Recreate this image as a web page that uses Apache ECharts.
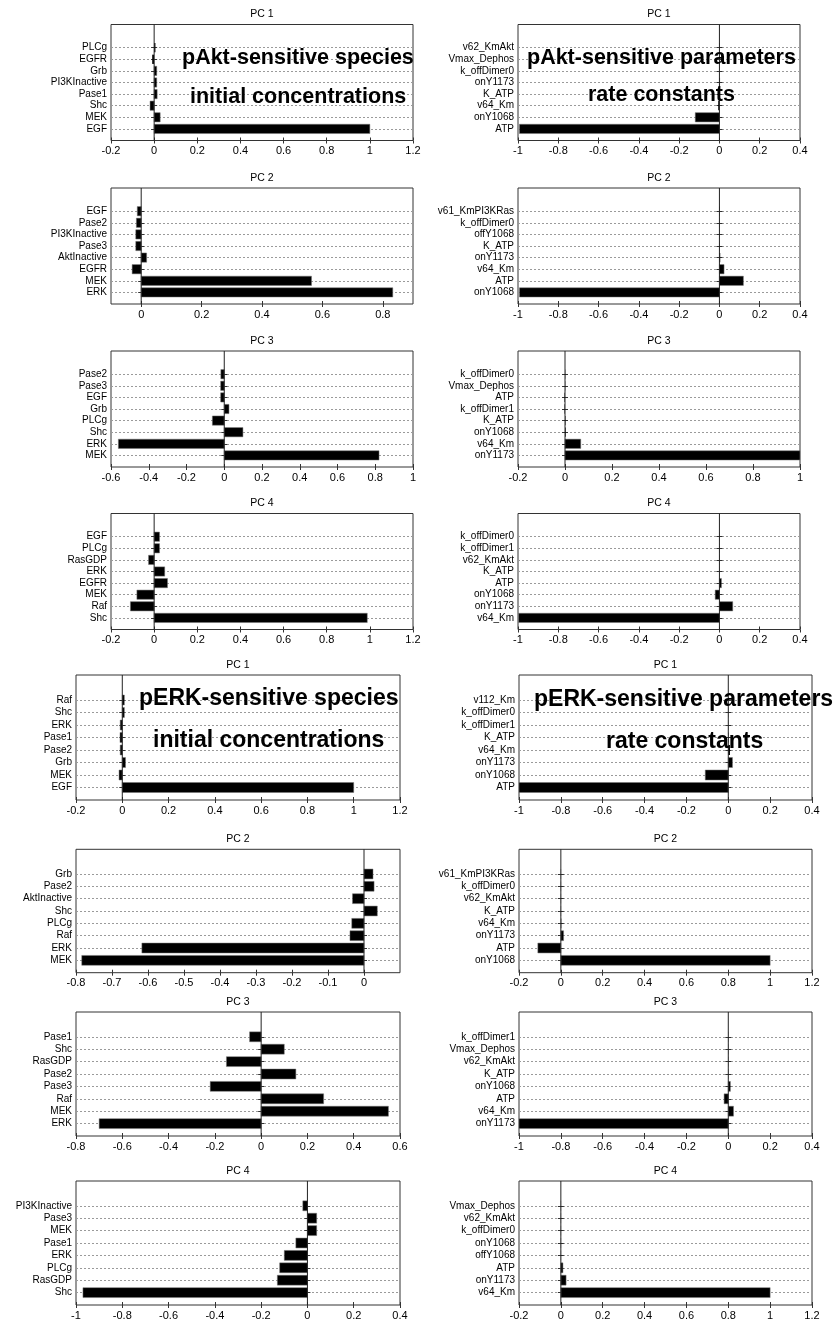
<!DOCTYPE html>
<html><head><meta charset="utf-8">
<script src="https://cdn.jsdelivr.net/npm/echarts@6/dist/echarts.min.js"></script>
<style>html,body{margin:0;padding:0;background:#fff}#c{width:839px;height:1339px}</style>
</head><body><div id="c"></div>
<script>
// ---------- DATA (categories listed top -> bottom) ----------
const aktSpPC1Cats = ['PLCg','EGFR','Grb','PI3KInactive','Pase1','Shc','MEK','EGF'];
const aktSpPC1Vals = [0.006,-0.009,0.012,0.012,0.014,-0.019,0.028,1.0];
const aktSpPC2Cats = ['EGF','Pase2','PI3KInactive','Pase3','AktInactive','EGFR','MEK','ERK'];
const aktSpPC2Vals = [-0.013,-0.016,-0.018,-0.018,0.018,-0.03,0.564,0.833];
const aktSpPC3Cats = ['Pase2','Pase3','EGF','Grb','PLCg','Shc','ERK','MEK'];
const aktSpPC3Vals = [-0.018,-0.019,-0.019,0.025,-0.063,0.099,-0.561,0.82];
const aktSpPC4Cats = ['EGF','PLCg','RasGDP','ERK','EGFR','MEK','Raf','Shc'];
const aktSpPC4Vals = [0.025,0.025,-0.026,0.049,0.062,-0.08,-0.11,0.988];

const aktPaPC1Cats = ['v62_KmAkt','Vmax_Dephos','k_offDimer0','onY1173','K_ATP','v64_Km','onY1068','ATP'];
const aktPaPC1Vals = [0.002,0.001,0.001,0.003,0.002,-0.006,-0.12,-0.993];
const aktPaPC2Cats = ['v61_KmPI3KRas','k_offDimer0','offY1068','K_ATP','onY1173','v64_Km','ATP','onY1068'];
const aktPaPC2Vals = [0.002,0.001,0.001,0.001,0.004,0.023,0.119,-0.993];
const aktPaPC3Cats = ['k_offDimer0','Vmax_Dephos','ATP','k_offDimer1','K_ATP','onY1068','v64_Km','onY1173'];
const aktPaPC3Vals = [0.001,0.001,-0.002,-0.002,0.002,0.003,0.067,1.0];
const aktPaPC4Cats = ['k_offDimer0','k_offDimer1','v62_KmAkt','K_ATP','ATP','onY1068','onY1173','v64_Km'];
const aktPaPC4Vals = [0.001,0.001,0.001,0.001,0.01,-0.021,0.066,-0.997];

const erkSpPC1Cats = ['Raf','Shc','ERK','Pase1','Pase2','Grb','MEK','EGF'];
const erkSpPC1Vals = [0.009,0.009,-0.009,-0.01,-0.009,0.014,-0.014,1.0];
const erkSpPC2Cats = ['Grb','Pase2','AktInactive','Shc','PLCg','Raf','ERK','MEK'];
const erkSpPC2Vals = [0.025,0.028,-0.032,0.037,-0.034,-0.039,-0.617,-0.784];
const erkSpPC3Cats = ['Pase1','Shc','RasGDP','Pase2','Pase3','Raf','MEK','ERK'];
const erkSpPC3Vals = [-0.05,0.1,-0.15,0.15,-0.22,0.27,0.55,-0.7];
const erkSpPC4Cats = ['PI3KInactive','Pase3','MEK','Pase1','ERK','PLCg','RasGDP','Shc'];
const erkSpPC4Vals = [-0.02,0.04,0.04,-0.05,-0.1,-0.12,-0.13,-0.97];

const erkPaPC1Cats = ['v112_Km','k_offDimer0','k_offDimer1','K_ATP','v64_Km','onY1173','onY1068','ATP'];
const erkPaPC1Vals = [0.001,0.001,0.001,0.002,0.008,0.02,-0.11,-1.0];
const erkPaPC2Cats = ['v61_KmPI3KRas','k_offDimer0','v62_KmAkt','K_ATP','v64_Km','onY1173','ATP','onY1068'];
const erkPaPC2Vals = [0.001,0.001,0.001,0.001,0.002,0.013,-0.11,1.0];
const erkPaPC3Cats = ['k_offDimer1','Vmax_Dephos','v62_KmAkt','K_ATP','onY1068','ATP','v64_Km','onY1173'];
const erkPaPC3Vals = [0.001,0.001,0.001,0.001,0.01,-0.02,0.025,-1.0];
const erkPaPC4Cats = ['Vmax_Dephos','v62_KmAkt','k_offDimer0','onY1068','offY1068','ATP','onY1173','v64_Km'];
const erkPaPC4Vals = [0.001,0.001,0.001,0.001,0.001,0.01,0.025,1.0];

// tick label sets
const ticksM02to12 = [-0.2,0,0.2,0.4,0.6,0.8,1,1.2];
const ticksM1to04 = [-1,-0.8,-0.6,-0.4,-0.2,0,0.2,0.4];
const ticks0to08 = [0,0.2,0.4,0.6,0.8];
const ticksM06to1 = [-0.6,-0.4,-0.2,0,0.2,0.4,0.6,0.8,1];
const ticksM02to1 = [-0.2,0,0.2,0.4,0.6,0.8,1];
const ticksM08to0 = [-0.8,-0.7,-0.6,-0.5,-0.4,-0.3,-0.2,-0.1,0];
const ticksM08to06 = [-0.8,-0.6,-0.4,-0.2,0,0.2,0.4,0.6];

const titles = ['PC 1','PC 2','PC 3','PC 4'];
const overlayTexts = ['pAkt-sensitive species','initial concentrations','pAkt-sensitive parameters','rate constants',
                      'pERK-sensitive species','initial concentrations','pERK-sensitive parameters','rate constants'];

// ---------- LAYOUT ----------
const colL1 = [111, 302], colR1 = [518, 282], colL2 = [76, 324], colR2 = [519, 293];
const rowY = [[24.5,116],[188,116],[351,116],[513.5,116],[675,125],[849.3,123.4],[1012,124],[1181,124]];

const panels = [
  {cats:aktSpPC1Cats, vals:aktSpPC1Vals, ticks:ticksM02to12, min:-0.2, max:1.2, col:colL1, row:0, t:0},
  {cats:aktPaPC1Cats, vals:aktPaPC1Vals, ticks:ticksM1to04, min:-1, max:0.4, col:colR1, row:0, t:0},
  {cats:aktSpPC2Cats, vals:aktSpPC2Vals, ticks:ticks0to08, min:-0.1, max:0.9, col:colL1, row:1, t:1},
  {cats:aktPaPC2Cats, vals:aktPaPC2Vals, ticks:ticksM1to04, min:-1, max:0.4, col:colR1, row:1, t:1},
  {cats:aktSpPC3Cats, vals:aktSpPC3Vals, ticks:ticksM06to1, min:-0.6, max:1, col:colL1, row:2, t:2},
  {cats:aktPaPC3Cats, vals:aktPaPC3Vals, ticks:ticksM02to1, min:-0.2, max:1, col:colR1, row:2, t:2},
  {cats:aktSpPC4Cats, vals:aktSpPC4Vals, ticks:ticksM02to12, min:-0.2, max:1.2, col:colL1, row:3, t:3},
  {cats:aktPaPC4Cats, vals:aktPaPC4Vals, ticks:ticksM1to04, min:-1, max:0.4, col:colR1, row:3, t:3},
  {cats:erkSpPC1Cats, vals:erkSpPC1Vals, ticks:ticksM02to12, min:-0.2, max:1.2, col:colL2, row:4, t:0},
  {cats:erkPaPC1Cats, vals:erkPaPC1Vals, ticks:ticksM1to04, min:-1, max:0.4, col:colR2, row:4, t:0},
  {cats:erkSpPC2Cats, vals:erkSpPC2Vals, ticks:ticksM08to0, min:-0.8, max:0.1, col:colL2, row:5, t:1},
  {cats:erkPaPC2Cats, vals:erkPaPC2Vals, ticks:ticksM02to12, min:-0.2, max:1.2, col:colR2, row:5, t:1},
  {cats:erkSpPC3Cats, vals:erkSpPC3Vals, ticks:ticksM08to06, min:-0.8, max:0.6, col:colL2, row:6, t:2},
  {cats:erkPaPC3Cats, vals:erkPaPC3Vals, ticks:ticksM1to04, min:-1, max:0.4, col:colR2, row:6, t:2},
  {cats:erkSpPC4Cats, vals:erkSpPC4Vals, ticks:ticksM1to04, min:-1, max:0.4, col:colL2, row:7, t:3},
  {cats:erkPaPC4Cats, vals:erkPaPC4Vals, ticks:ticksM02to12, min:-0.2, max:1.2, col:colR2, row:7, t:3}
];

const FONT = 'Arial, "Liberation Sans", Helvetica, sans-serif';
const fmt = v => String(Math.round(v * 100) / 100);

function renderBar(params, api) {
  const v = api.value(0), y = api.value(1);
  const p0 = api.coord([0, y]), p1 = api.coord([v, y]);
  const h = api.size([0, 0.8])[1];
  const w = Math.abs(p1[0] - p0[0]);
  return {
    type: 'rect',
    shape: { x: Math.min(p0[0], p1[0]), y: p0[1] - h / 2, width: w, height: h },
    style: w > 2 ? { fill: '#000', stroke: '#777', lineWidth: 0.5 } : { fill: '#000' }
  };
}

const grid = [], xAxis = [], yAxis = [], series = [], graphic = [];
panels.forEach((p, i) => {
  const l = p.col[0], w = p.col[1], t = rowY[p.row][0], h = rowY[p.row][1];
  const n = p.cats.length;
  const catPos = p.cats.map((c, k) => n - k);
  grid.push({ left: l, top: t, width: w, height: h, show: true, borderColor: '#333', borderWidth: 1, backgroundColor: '#fff' });
  const tickStyle = { color: '#333', width: 1 };
  xAxis.push({ gridIndex: i, type: 'value', min: p.min, max: p.max, position: 'bottom',
    axisLine: { show: false },
    axisTick: { show: true, inside: true, length: 3, customValues: p.ticks, lineStyle: tickStyle },
    axisLabel: { customValues: p.ticks, formatter: fmt, color: '#000', fontSize: 11, fontFamily: FONT, margin: 5, showMinLabel: true, showMaxLabel: true },
    splitLine: { show: false } });
  xAxis.push({ gridIndex: i, type: 'value', min: p.min, max: p.max, position: 'top',
    axisLine: { show: false },
    axisTick: { show: true, inside: true, length: 3, customValues: p.ticks, lineStyle: tickStyle },
    axisLabel: { show: false }, splitLine: { show: false } });
  yAxis.push({ gridIndex: i, type: 'value', min: 0, max: 10, position: 'left',
    axisLine: { show: false },
    axisTick: { show: true, inside: true, length: 3, customValues: catPos, lineStyle: tickStyle },
    axisLabel: { customValues: catPos, formatter: v => p.cats[n - Math.round(v)] || '', color: '#000', fontSize: 10, fontFamily: FONT, margin: 4 },
    splitLine: { show: true, lineStyle: { type: [2, 2], color: '#9a9a9a', width: 1 } } });
  yAxis.push({ gridIndex: i, type: 'value', min: 0, max: 10, position: 'right',
    axisLine: { show: false },
    axisTick: { show: true, inside: true, length: 3, customValues: catPos, lineStyle: tickStyle },
    axisLabel: { show: false }, splitLine: { show: false } });
  series.push({ type: 'custom', xAxisIndex: 2 * i, yAxisIndex: 2 * i, renderItem: renderBar,
    data: p.vals.map((v, k) => [v, n - k]), encode: { x: 0, y: 1 }, z: 3, silent: true });
  series.push({ type: 'line', xAxisIndex: 2 * i, yAxisIndex: 2 * i, data: [[0, 0], [0, 10]],
    symbol: 'none', lineStyle: { color: '#222', width: 1 }, z: 4, silent: true });
  graphic.push({ type: 'text', x: l + w / 2, y: t - 10, z: 50,
    style: { text: titles[p.t], font: '10.5px ' + FONT, fill: '#000', textAlign: 'center', textVerticalAlign: 'middle' } });
});

const overlayPos = [[182,58,21.5],[190,97,21.5],[527,58,21.5],[588,95,21.5],[139,699,23],[153,741,23],[534,700,23],[606,741.5,23]];
overlayTexts.forEach((s, k) => {
  const o = overlayPos[k];
  graphic.push({ type: 'text', x: o[0], y: o[1], z: 100,
    style: { text: s, font: 'bold ' + o[2] + 'px ' + FONT, fill: '#000', textAlign: 'left', textVerticalAlign: 'middle' } });
});

const chart = echarts.init(document.getElementById('c'), null, { renderer: 'canvas' });
chart.setOption({ animation: false, backgroundColor: '#fff', grid, xAxis, yAxis, series, graphic });
</script></body></html>
